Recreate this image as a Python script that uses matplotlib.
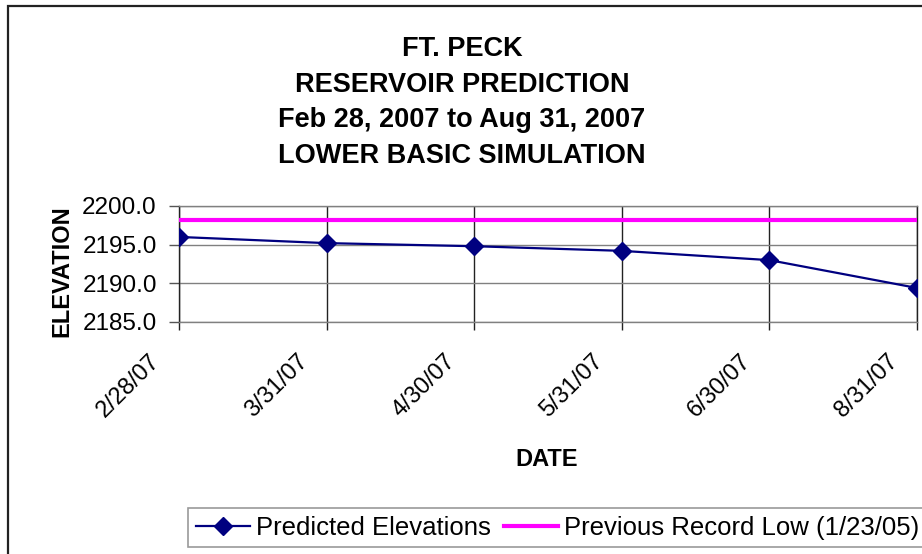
import matplotlib
matplotlib.use("Agg")
import matplotlib.pyplot as plt
from matplotlib.patches import Rectangle
from matplotlib.lines import Line2D
from matplotlib.transforms import ScaledTranslation

plt.rcParams['font.family'] = ['Liberation Sans', 'DejaVu Sans']

# ---- data ----
dates = ["2/28/07", "3/31/07", "4/30/07", "5/31/07", "6/30/07", "8/31/07"]
predicted = [2196.0, 2195.2, 2194.8, 2194.2, 2193.0, 2189.4]
record_low = [2198.2, 2198.2, 2198.2, 2198.2, 2198.2, 2198.2]
y_ticks = [2185.0, 2190.0, 2195.0, 2200.0]
title_lines = ["FT. PECK", "RESERVOIR PREDICTION",
               "Feb 28, 2007 to Aug 31, 2007", "LOWER BASIC SIMULATION"]
label_pred = "Predicted Elevations"
label_low = "Previous Record Low (1/23/05)"

W, H = 922, 554
fig = plt.figure(figsize=(W / 100, H / 100), dpi=100)
fig.patch.set_facecolor('white')

def fx(px):
    return px / W

def fy(py):
    return 1 - py / H

# outer chart border (cropped at right/bottom)
fig.patches.append(Rectangle((fx(8), -0.1), 1.2, fy(6) + 0.1, transform=fig.transFigure,
                             fill=False, lw=1.6, ec='#222222', clip_on=False))

ax = fig.add_axes([fx(179), fy(322), fx(917) - fx(179), (322 - 206) / H])
x = list(range(len(dates)))

ax.plot(x, record_low, color='#FF00FF', lw=3.0, solid_capstyle='butt', zorder=3)
ax.plot(x, predicted, color='#000080', lw=1.6, marker='D', markersize=9, zorder=4)

ax.set_xlim(0, len(dates) - 1)
ax.set_ylim(y_ticks[0], y_ticks[-1])
ax.set_yticks(y_ticks)
ax.set_yticklabels([f"{v:.1f}" for v in y_ticks], fontsize=17.5)
ax.set_xticks(x)
ax.set_xticklabels(dates, fontsize=17, rotation=45, ha='right', va='top',
                   rotation_mode='anchor')

ax.tick_params(axis='x', direction='out', length=6, width=1, color='#222222', pad=14)
ax.tick_params(axis='y', direction='out', length=7, width=1, color='#555555', pad=9)

ax.grid(axis='y', color='#808080', lw=1)
ax.grid(axis='x', color='#222222', lw=1)
ax.set_axisbelow(True)
ax.spines['top'].set_color('#808080')
ax.spines['right'].set_color('#222222')
ax.spines['left'].set_color('#222222')
ax.spines['bottom'].set_color('#808080')
for s in ax.spines.values():
    s.set_linewidth(1)

# titles
for txt, base in zip(title_lines, [56, 92, 127.5, 163]):
    fig.text(fx(462), fy(base), txt, ha='center', va='baseline',
             fontsize=19.5, fontweight='bold')

fig.text(fx(547), fy(466), "DATE", ha='center', va='baseline',
         fontsize=17, fontweight='bold')
fig.text(fx(62), fy(271), "ELEVATION", ha='center', va='center', rotation=90,
         fontsize=17, fontweight='bold')

handles = [Line2D([], [], color='#000080', lw=1.6, marker='D', markersize=9),
           Line2D([], [], color='#FF00FF', lw=3.0)]
leg = fig.legend(handles, [label_pred, label_low], loc='upper left',
                 bbox_to_anchor=(fx(188), fy(508)), ncol=2, frameon=True,
                 fancybox=False, edgecolor='#808080', fontsize=18.5,
                 handlelength=2.1, handletextpad=0.25, columnspacing=0.5,
                 borderpad=0.3, borderaxespad=0)
leg.get_frame().set_linewidth(1.2)

# shift rotated date labels left (after ticks exist)
fig.canvas.draw()
off = ScaledTranslation(-30 / 100, 0, fig.dpi_scale_trans)
for tick in ax.xaxis.get_major_ticks():
    tick.label1.set_transform(tick.label1.get_transform() + off)

fig.savefig("out.png", dpi=100, facecolor='white')
